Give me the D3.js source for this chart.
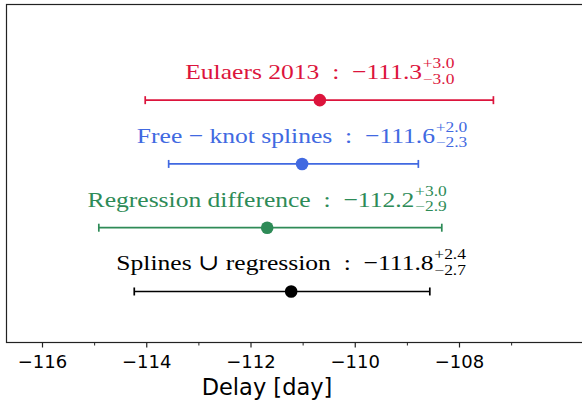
<!DOCTYPE html>
<html>
<head>
<meta charset="utf-8">
<script src="https://cdn.jsdelivr.net/npm/d3@7"></script>
<style>
  body { margin: 0; background: #fff; }
  svg { display: block; }
  .lbl { font-family: "Liberation Serif", "DejaVu Serif", serif; }
</style>
</head>
<body>
<div id="wrapper"></div>
<script>
// values
const names = ["Eulaers 2013", "Free \u2212 knot splines", "Regression difference", "Splines \u222a regression"];
const labelValues = ["\u2212111.3", "\u2212111.6", "\u2212112.2", "\u2212111.8"];
const labelPlus = ["+3.0", "+2.0", "+3.0", "+2.4"];
const labelMinus = ["\u22123.0", "\u22122.3", "\u22122.9", "\u22122.7"];
const centers = [-110.67, -111.01, -111.68, -111.22];
const lowers = [-114.02, -113.57, -114.91, -114.23];
const uppers = [-107.34, -108.78, -108.33, -108.56];
const rows = [4, 3, 2, 1];
const colors = ["crimson", "royalblue", "seagreen", "black"];
const xTicks = [-116, -114, -112, -110, -108];
const xMinorTicks = [-115, -113, -111, -109, -107];

function drawChart() {
  const dimensions = {
    width: 582,
    height: 406,
    left: 6.5,
    right: 590,
    top: 4.5,
    bottom: 342.5
  };

  const wrapper = d3.select("#wrapper")
    .append("svg")
    .attr("width", dimensions.width)
    .attr("height", dimensions.height);

  const xScale = d3.scaleLinear()
    .domain([-116, -108])
    .range([42, 459]);
  const yScale = d3.scaleLinear()
    .domain([0.2, 5.5])
    .range([dimensions.bottom, dimensions.top]);

  // frame
  wrapper.append("rect")
    .attr("x", dimensions.left)
    .attr("y", dimensions.top)
    .attr("width", dimensions.right - dimensions.left)
    .attr("height", dimensions.bottom - dimensions.top)
    .attr("fill", "none")
    .attr("stroke", "#222")
    .attr("stroke-width", 1.2);

  // x axis
  const xAxis = d3.axisBottom(xScale)
    .tickValues(xTicks)
    .tickSize(5)
    .tickPadding(7.5)
    .tickFormat(d => d3.format("d")(d).replace("-", "\u2212"));
  const xAxisGroup = wrapper.append("g")
    .attr("transform", `translate(0, ${dimensions.bottom})`)
    .call(xAxis);
  xAxisGroup.select(".domain").remove();
  xAxisGroup.selectAll("line").attr("stroke", "#222").attr("stroke-width", 1.2);
  xAxisGroup.selectAll("text")
    .style("font-family", "DejaVu Sans")
    .style("font-size", "18px")
    .attr("fill", "#000");

  const minorAxis = d3.axisBottom(xScale)
    .tickValues(xMinorTicks)
    .tickSize(3)
    .tickFormat("");
  const minorGroup = wrapper.append("g")
    .attr("transform", `translate(0, ${dimensions.bottom})`)
    .call(minorAxis);
  minorGroup.select(".domain").remove();
  minorGroup.selectAll("line").attr("stroke", "#222").attr("stroke-width", 1);

  wrapper.append("text")
    .attr("x", 267)
    .attr("y", 395)
    .attr("text-anchor", "middle")
    .style("font-family", "DejaVu Sans")
    .style("font-size", "22.5px")
    .text("Delay [day]");

  // error bars
  const bars = wrapper.selectAll(".bar")
    .data(names.map((n, i) => i))
    .enter().append("g")
    .attr("class", "bar")
    .attr("color", i => colors[i]);

  bars.append("line")
    .attr("x1", i => xScale(lowers[i]))
    .attr("x2", i => xScale(uppers[i]))
    .attr("y1", i => yScale(rows[i]))
    .attr("y2", i => yScale(rows[i]))
    .attr("stroke", "currentColor")
    .attr("stroke-width", 1.7);

  [lowers, uppers].forEach(arr => {
    bars.append("line")
      .attr("x1", i => xScale(arr[i]))
      .attr("x2", i => xScale(arr[i]))
      .attr("y1", i => yScale(rows[i]) - 4)
      .attr("y2", i => yScale(rows[i]) + 4)
      .attr("stroke", "currentColor")
      .attr("stroke-width", 1.7);
  });

  bars.append("circle")
    .attr("cx", i => xScale(centers[i]))
    .attr("cy", i => yScale(rows[i]))
    .attr("r", 6.3)
    .attr("fill", "currentColor");

  // labels with super/subscripts; the first label is ~237px wide in the original
  let stretch = null;
  bars.each(function(i) {
    const g = d3.select(this).append("g");
    const main = g.append("text")
      .attr("class", "lbl")
      .attr("x", 0)
      .attr("y", 0)
      .style("font-size", "22px")
      .style("white-space", "pre")
      .attr("fill", "currentColor")
      .text(`${names[i]}\u2002:\u2002${labelValues[i]}`);
    const mainWidth = main.node().getComputedTextLength();
    if (stretch === null) stretch = 237 / mainWidth;
    const sup = g.append("text")
      .attr("class", "lbl")
      .attr("x", mainWidth + 0.5)
      .attr("y", -11)
      .style("font-size", "15px")
      .attr("fill", "currentColor")
      .text(labelPlus[i]);
    const sub = g.append("text")
      .attr("class", "lbl")
      .attr("x", mainWidth + 0.5)
      .attr("y", 4.5)
      .style("font-size", "15px")
      .attr("fill", "currentColor")
      .text(labelMinus[i]);
    const total = (mainWidth + 0.5 + Math.max(sup.node().getComputedTextLength(), sub.node().getComputedTextLength())) * stretch;
    g.attr("transform", `translate(${xScale(centers[i]) - total / 2}, ${yScale(rows[i]) - 21}) scale(${stretch}, 1)`);
  });
}
drawChart();
</script>
</body>
</html>
